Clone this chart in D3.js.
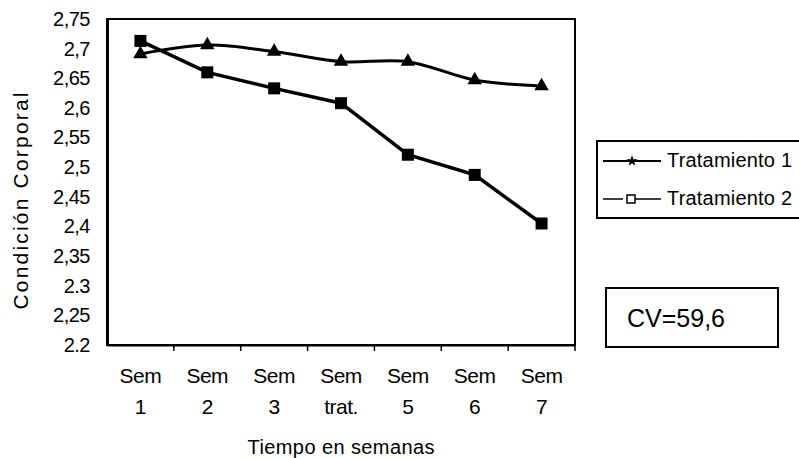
<!DOCTYPE html>
<html lang="es">

<head>
  <meta charset="UTF-8">
  <title>Condición Corporal</title>
  <script src="https://cdn.jsdelivr.net/npm/d3@7/dist/d3.min.js"></script>
  <style type="text/css">
    body {
      margin: 0;
      background: #fff;
    }

    text {
      font-family: "Liberation Sans", Arial, sans-serif;
      fill: #000;
    }
  </style>
</head>

<body>
  <script type="text/javascript">
    // datos
    var semanas = ['Sem 1', 'Sem 2', 'Sem 3', 'Sem trat.', 'Sem 5', 'Sem 6', 'Sem 7']
    var tratamiento1 = [2.691, 2.706, 2.695, 2.678, 2.678, 2.647, 2.637]
    var tratamiento2 = [2.713, 2.660, 2.633, 2.608, 2.521, 2.487, 2.405]
    var yTicks = [2.2, 2.25, 2.3, 2.35, 2.4, 2.45, 2.5, 2.55, 2.6, 2.65, 2.7, 2.75]
    var yTickLabels = ['2.2', '2,25', '2.3', '2,35', '2,4', '2,45', '2,5', '2,55', '2,6', '2,65', '2,7', '2,75']
    var serieNombres = ['Tratamiento 1', 'Tratamiento 2']
    var cvTexto = 'CV=59,6'

    // tamaño y margenes del area de trazado
    var w = 799
    var h = 458
    var plotLeft = 107, plotRight = 575, plotTop = 19, plotBottom = 345

    var svg = d3.select('body').append('svg').attr('width', w).attr('height', h)

    // escalas
    var xScale = d3.scaleBand().domain(semanas).range([plotLeft, plotRight])
    var yScale = d3.scaleLinear().domain([2.2, 2.75]).range([plotBottom, plotTop])
    var cx = function (i) { return xScale(semanas[i]) + xScale.bandwidth() / 2 }

    // marco del area de trazado
    svg.append('rect')
      .attr('x', plotLeft).attr('y', plotTop)
      .attr('width', plotRight - plotLeft).attr('height', plotBottom - plotTop)
      .attr('fill', 'none').attr('stroke', '#000').attr('stroke-width', 2)

    // eje y
    var yAxis = d3.axisLeft(yScale)
      .tickValues(yTicks)
      .tickSize(0)
      .tickPadding(17)
      .tickFormat(function (d, i) { return yTickLabels[i] })
    var gy = svg.append('g').attr('transform', 'translate(' + plotLeft + ',0)').call(yAxis)
    gy.select('.domain').attr('stroke', '#000').attr('stroke-width', 3)
    gy.selectAll('text')
      .attr('font-size', '20px')
      .attr('font-family', '"Liberation Sans", Arial, sans-serif')
      .attr('letter-spacing', '-0.5px')

    // eje x, marcas entre categorias
    var xAxis = d3.axisBottom(xScale).tickSize(0).tickFormat('')
    var gx = svg.append('g').attr('transform', 'translate(0,' + plotBottom + ')').call(xAxis)
    gx.select('.domain').attr('stroke', '#000').attr('stroke-width', 2)
    svg.selectAll('line.xtick').data(semanas).enter().append('line')
      .attr('class', 'xtick')
      .attr('x1', function (d) { return xScale(d) + xScale.step() })
      .attr('x2', function (d) { return xScale(d) + xScale.step() })
      .attr('y1', plotBottom).attr('y2', plotBottom + 6)
      .attr('stroke', '#000').attr('stroke-width', 1.5)

    // etiquetas de categoria en dos lineas
    var catLabels = svg.selectAll('text.cat').data(semanas).enter().append('text')
      .attr('class', 'cat')
      .attr('text-anchor', 'middle')
      .attr('font-size', '21px')
      .attr('letter-spacing', '-0.5px')
    catLabels.append('tspan')
      .attr('x', function (d, i) { return cx(i) })
      .attr('y', 383)
      .text(function (d) { return d.split(' ')[0] })
    catLabels.append('tspan')
      .attr('x', function (d, i) { return cx(i) })
      .attr('y', 414)
      .text(function (d) { return d.split(' ')[1] })

    // titulos de ejes
    svg.append('text')
      .attr('x', (plotLeft + plotRight) / 2).attr('y', 454)
      .attr('text-anchor', 'middle')
      .attr('font-size', '20px')
      .attr('textLength', 187)
      .text('Tiempo en semanas')
    svg.append('text')
      .attr('transform', 'translate(28,201) rotate(-90)')
      .attr('text-anchor', 'middle')
      .attr('font-size', '21px')
      .attr('textLength', 217)
      .text('Condición Corporal')

    // lineas: la serie 1 suavizada, la serie 2 en tramos rectos
    var line1 = d3.line()
      .x(function (d, i) { return cx(i) })
      .y(function (d) { return yScale(d) })
      .curve(d3.curveCatmullRom.alpha(0.5))
    var line2 = d3.line()
      .x(function (d, i) { return cx(i) })
      .y(function (d) { return yScale(d) })

    svg.append('path').datum(tratamiento1)
      .attr('d', line1).attr('fill', 'none').attr('stroke', '#000').attr('stroke-width', 3)
    svg.append('path').datum(tratamiento2)
      .attr('d', line2).attr('fill', 'none').attr('stroke', '#000').attr('stroke-width', 3.5)

    // marcadores
    var tri = d3.symbol().type(d3.symbolTriangle).size(90)
    svg.selectAll('path.t1').data(tratamiento1).enter().append('path')
      .attr('class', 't1')
      .attr('d', tri)
      .attr('transform', function (d, i) { return 'translate(' + cx(i) + ',' + yScale(d) + ')' })
      .attr('fill', '#000')
    svg.selectAll('rect.t2').data(tratamiento2).enter().append('rect')
      .attr('class', 't2')
      .attr('x', function (d, i) { return cx(i) - 6 })
      .attr('y', function (d) { return yScale(d) - 6 })
      .attr('width', 12).attr('height', 12)
      .attr('fill', '#000')

    // leyenda
    var lg = svg.append('g')
    lg.append('rect')
      .attr('x', 597).attr('y', 141).attr('width', 215).attr('height', 77)
      .attr('fill', '#fff').attr('stroke', '#000').attr('stroke-width', 2)
    var ly = [161, 199]
    serieNombres.forEach(function (n, i) {
      lg.append('line')
        .attr('x1', 603).attr('x2', 661).attr('y1', ly[i]).attr('y2', ly[i])
        .attr('stroke', '#000').attr('stroke-width', i === 0 ? 2 : 1.5)
        .attr('stroke-dasharray', i === 0 ? null : '20,4,2,3,30')
      if (i === 0) {
        lg.append('path')
          .attr('d', d3.symbol().type(d3.symbolStar).size(40))
          .attr('transform', 'translate(632,' + ly[i] + ')')
          .attr('fill', '#000')
      } else {
        lg.append('rect')
          .attr('x', 627).attr('y', ly[i] - 4).attr('width', 8).attr('height', 8)
          .attr('fill', '#fff').attr('stroke', '#000').attr('stroke-width', 1.5)
      }
      lg.append('text')
        .attr('x', 667).attr('y', ly[i] + 6)
        .attr('font-size', '20px')
        .attr('textLength', 125)
        .text(n)
    })

    // recuadro CV
    svg.append('rect')
      .attr('x', 606).attr('y', 288).attr('width', 172).attr('height', 59)
      .attr('fill', '#fff').attr('stroke', '#000').attr('stroke-width', 2)
    svg.append('text')
      .attr('x', 627).attr('y', 327)
      .attr('font-size', '25px')
      .attr('textLength', 98)
      .text(cvTexto)
  </script>
</body>

</html>
